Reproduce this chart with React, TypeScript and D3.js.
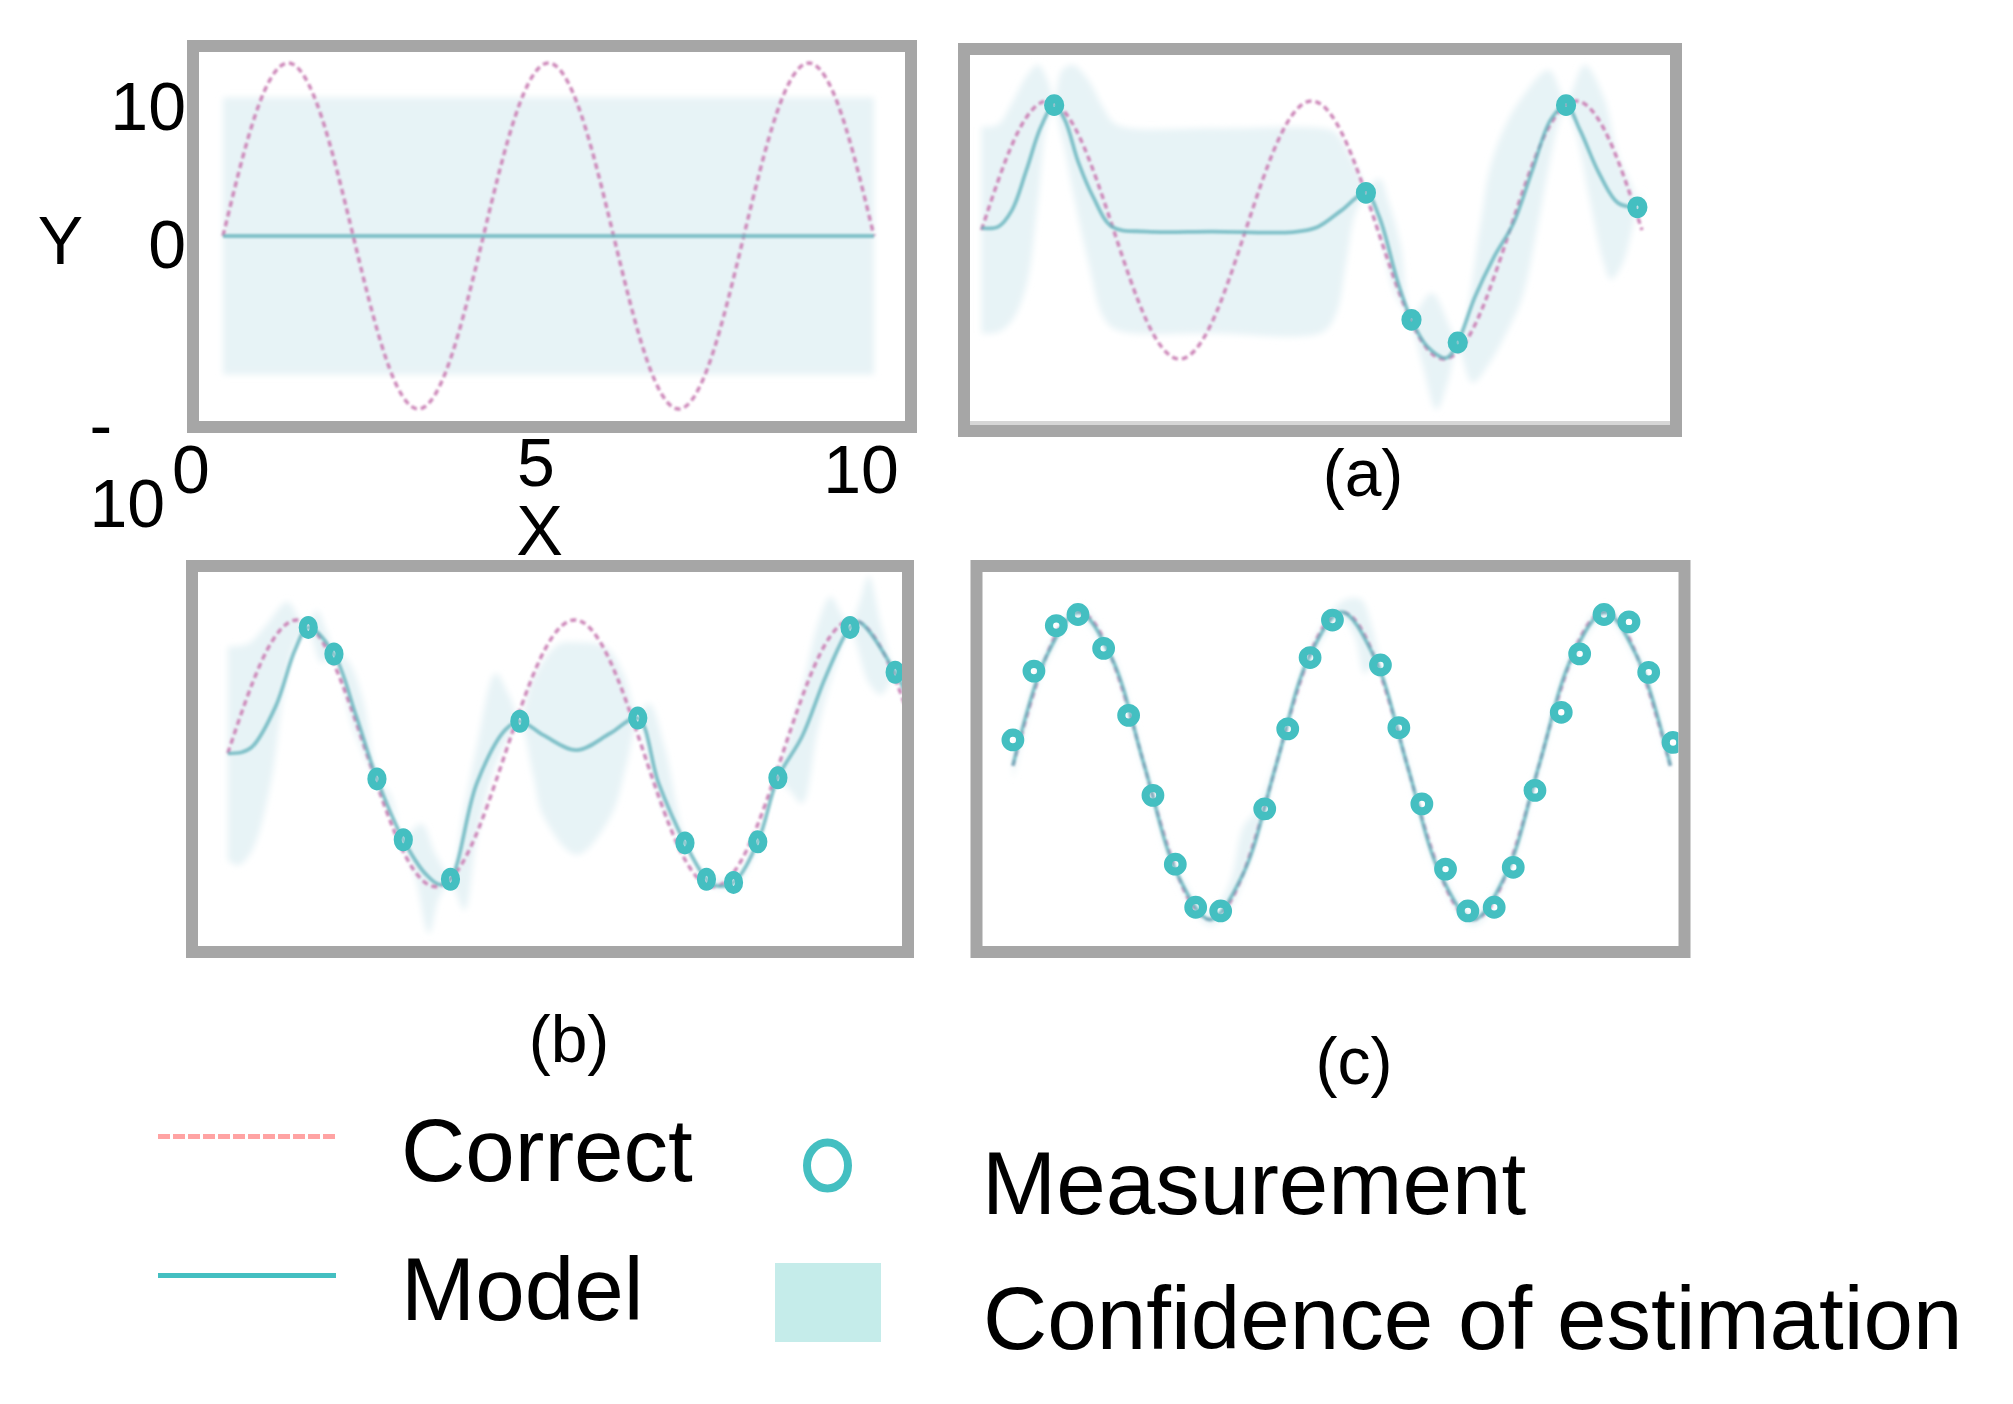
import React from 'react';
import * as d3 from 'd3';

// ---------- data ----------
const CORRECT_X = [0, 0.5, 1, 1.5, 2, 2.5, 3, 3.5, 4, 4.5, 5, 5.5, 6, 6.5, 7, 7.5, 8, 8.5, 9, 9.5, 10];
const CORRECT_Y = [0, 8.8, 12.5, 8.8, 0, -8.8, -12.5, -8.8, 0, 8.8, 12.5, 8.8, 0, -8.8, -12.5, -8.8, 0, 8.8, 12.5, 8.8, 0];

// prior panel
const PRIOR_X = [0, 10];
const PRIOR_MEAN = [0, 0];
const PRIOR_UPPER = [10, 10];
const PRIOR_LOWER = [-10, -10];

// panel (a)
const A_MEAS_X = [1.10, 5.82, 6.51, 7.21, 8.85, 9.93];
const A_MEAS_Y = [12.1, 3.6, -8.7, -10.9, 12.1, 2.2];
const A_MODEL_X = [0, 0.25, 0.46, 0.68, 0.9, 1.1, 1.26, 1.47, 1.69, 1.98, 2.5, 3.5, 4.72, 5.09, 5.45, 5.82, 6.02, 6.31, 6.51, 6.75, 7.04, 7.21, 7.47, 7.76, 8.05, 8.34, 8.62, 8.85, 9.06, 9.35, 9.64, 9.93];
const A_MODEL_Y = [0.2, 0.3, 1.9, 5.8, 10.0, 12.1, 10.7, 6.5, 3.2, 0.3, -0.15, -0.15, -0.2, 0.3, 1.9, 3.6, 1.3, -5.2, -8.7, -11.3, -12.4, -10.9, -6.5, -2.6, 0.6, 5.8, 10.7, 12.1, 9.7, 5.5, 2.6, 2.2];
const A_UPPER_X = [0, 0.25, 0.46, 0.68, 0.86, 1.0, 1.1, 1.22, 1.39, 1.62, 1.84, 2.05, 3.5, 5.16, 5.37, 5.59, 5.74, 5.82, 6.02, 6.17, 6.35, 6.51, 6.82, 7.21, 7.54, 7.69, 7.9, 8.19, 8.59, 8.85, 9.13, 9.42, 9.64, 9.85, 9.93, 10];
const A_UPPER_Y = [10.0, 10.2, 12.3, 14.9, 16.0, 14.5, 12.6, 15.5, 16.0, 14.5, 11.9, 10.2, 9.85, 9.85, 9.4, 7.1, 5.2, 4.0, 5.0, 2.6, -1.6, -8.3, -6.1, -10.5, 0.0, 5.8, 9.7, 12.9, 15.5, 12.6, 16.0, 12.9, 7.1, 4.2, 2.6, 4.0];
const A_LOWER_X = [0, 0.25, 0.46, 0.68, 0.86, 1.0, 1.1, 1.22, 1.4, 1.62, 1.84, 2.05, 3.5, 5.16, 5.37, 5.52, 5.66, 5.82, 6.02, 6.24, 6.51, 6.67, 6.89, 7.07, 7.21, 7.43, 7.69, 7.97, 8.19, 8.41, 8.62, 8.77, 8.85, 8.99, 9.2, 9.42, 9.53, 9.71, 9.85, 9.93, 10];
const A_LOWER_Y = [-10.0, -9.9, -8.8, -5.4, 3.0, 10.6, 11.6, 9.0, 3.2, -3.2, -8.4, -9.7, -10.0, -9.9, -8.1, -3.2, 1.6, 3.2, 0.0, -5.8, -9.1, -12.9, -17.4, -14.5, -11.3, -14.8, -12.9, -9.7, -6.5, 0.0, 7.1, 11.0, 11.6, 9.7, 3.2, -3.2, -4.8, -3.2, 0.0, 1.8, 1.5];

// panel (b)
const B_MEAS_X = [1.16, 1.53, 2.15, 2.53, 3.21, 4.21, 5.91, 6.59, 6.9, 7.29, 7.64, 7.93, 8.97, 9.62];
const B_MEAS_Y = [11.8, 9.3, -2.4, -8.1, -11.8, 3.0, 3.3, -8.4, -11.8, -12.1, -8.3, -2.3, 11.8, 7.6];
const B_MODEL_X = [0, 0.2, 0.35, 0.69, 0.97, 1.16, 1.53, 1.85, 2.15, 2.53, 2.85, 3.05, 3.21, 3.59, 4.0, 4.21, 4.55, 5.03, 5.52, 5.91, 6.21, 6.59, 6.9, 7.04, 7.29, 7.64, 7.93, 8.28, 8.62, 8.97, 9.1, 9.62, 10];
const B_MODEL_Y = [0, 0.1, 0.6, 4.4, 9.7, 11.8, 9.3, 3.5, -2.4, -8.1, -11.3, -12.3, -11.8, -2.8, 2.2, 3.0, 1.7, 0.3, 1.9, 3.3, -2.8, -8.4, -11.8, -12.4, -12.1, -8.3, -2.3, 1.6, 7.2, 11.8, 12.3, 7.6, 2.5];
const B_UPPER_X = [0, 0.3, 0.55, 0.86, 1.05, 1.16, 1.28, 1.42, 1.53, 1.73, 1.95, 2.15, 2.35, 2.53, 2.79, 3.0, 3.21, 3.4, 3.6, 3.86, 4.05, 4.21, 4.4, 4.76, 5.03, 5.46, 5.7, 5.91, 6.07, 6.3, 6.59, 6.9, 7.29, 7.64, 7.93, 8.28, 8.5, 8.69, 8.85, 8.97, 9.1, 9.24, 9.42, 9.62, 9.75, 10];
const B_UPPER_Y = [10.0, 10.3, 12.0, 14.2, 12.5, 12.2, 13.4, 11.5, 9.6, 8.7, 5.0, -2.0, -4.0, -7.8, -6.6, -9.5, -11.4, -5.5, 1.0, 7.5, 5.5, 3.4, 7.0, 10.2, 10.4, 9.9, 7.5, 3.7, 4.7, 0.5, -8.0, -11.4, -11.7, -7.9, -1.9, 6.0, 12.0, 14.7, 13.0, 12.2, 14.0, 16.6, 12.0, 8.0, 8.5, 9.0];
const B_LOWER_X = [0, 0.15, 0.35, 0.62, 0.83, 1.0, 1.16, 1.35, 1.53, 1.8, 2.15, 2.35, 2.53, 2.7, 2.9, 3.05, 3.21, 3.41, 3.6, 3.9, 4.21, 4.4, 4.55, 5.03, 5.52, 5.75, 5.91, 6.1, 6.3, 6.59, 6.9, 7.29, 7.64, 7.93, 8.1, 8.28, 8.5, 8.7, 8.97, 9.24, 9.42, 9.62, 9.8, 10];
const B_LOWER_Y = [-10.0, -10.5, -9.1, -2.8, 6.6, 10.5, 11.4, 8.5, 9.0, 2.5, -2.8, -5.5, -8.4, -11.5, -16.9, -13.5, -12.2, -14.7, -7.5, -0.5, 2.6, -2.0, -5.9, -9.5, -5.9, -1.0, 2.9, -1.5, -5.5, -8.8, -12.2, -12.5, -8.7, -2.7, -3.5, -4.7, 2.0, 7.0, 11.4, 6.6, 5.5, 7.2, 4.5, 3.0];

// panel (c)
const C_MEAS_X = [0.0, 0.32, 0.66, 0.99, 1.38, 1.76, 2.13, 2.47, 2.78, 3.16, 3.83, 4.18, 4.52, 4.86, 5.59, 5.87, 6.22, 6.58, 6.92, 7.32, 7.61, 7.94, 8.34, 8.62, 8.99, 9.37, 9.67, 10.04];
const C_MEAS_Y = [2.1, 7.7, 11.4, 12.3, 9.55, 4.1, -2.4, -8.0, -11.5, -11.8, -3.5, 3.0, 8.8, 11.85, 8.2, 3.1, -3.1, -8.4, -11.8, -11.5, -8.25, -2.0, 4.35, 9.1, 12.3, 11.7, 7.6, 1.9];
const C_MODEL_X = [0, 0.5, 1, 1.5, 2, 2.5, 3, 3.5, 4, 4.5, 5, 5.5, 6, 6.5, 7, 7.5, 8, 8.5, 9, 9.5, 10];
const C_MODEL_Y = [0, 8.8, 12.5, 8.8, 0, -8.8, -12.5, -8.8, 0, 8.8, 12.5, 8.8, 0, -8.8, -12.5, -8.8, 0, 8.8, 12.5, 8.8, 0];
const C_UPPER_X = [0, 0.5, 1, 1.5, 2, 2.5, 3, 3.3, 3.5, 3.7, 4, 4.5, 4.9, 5.1, 5.3, 5.45, 5.6, 6, 6.5, 7, 7.5, 8, 8.5, 9, 9.5, 10];
const C_UPPER_Y = [0.5, 9.3, 13.0, 9.3, 0.5, -8.3, -12.0, -9.5, -5.0, -3.6, 0.5, 9.3, 12.9, 13.6, 13.5, 11.5, 8.0, 0.5, -8.3, -12.0, -8.3, 0.5, 9.3, 13.0, 9.3, 0.5];
const C_LOWER_X = [0, 0.5, 1, 1.5, 2, 2.5, 3, 3.3, 3.5, 3.7, 4, 4.5, 5, 5.2, 5.35, 5.5, 6, 6.5, 7, 7.5, 8, 8.5, 9, 9.5, 10];
const C_LOWER_Y = [-1.2, 8.3, 12.0, 8.3, -0.5, -9.3, -13.0, -11.6, -9.3, -6.2, -0.5, 8.3, 12.0, 10.5, 7.5, 8.2, -0.5, -9.3, -13.0, -9.3, -0.5, 8.3, 12.0, 8.3, -0.5];

// tick labels
const X_TICKS = [0, 5, 10];
const Y_TICKS = [10, 0];
const LEGEND_LINES = ['Correct', 'Model'];
const LEGEND_MARKS = ['Measurement', 'Confidence of estimation'];

// ---------- styling ----------
const FONT = 'Liberation Sans, Arial, Helvetica, sans-serif';
const FRAME_COLOR = '#a6a6a6';
const BAND_COLOR = '#e7f3f6';
const PINK = '#cc86b8';
const TEAL_LINE = '#66b4bd';
const TEAL = '#44bfc1';

type Pt = [number, number];
const zip = (xs: number[], ys: number[]): Pt[] => xs.map((x, i) => [x, ys[i]]);

type Layout = {
  id: string;
  outer: [number, number, number, number]; // x1,y1,x2,y2
  xr: [number, number];
  y0: number;
  k: number;
};

const FRAME = 12;

const LAYOUTS: Record<string, Layout> = {
  p: { id: 'p', outer: [187, 40, 917, 433], xr: [223, 874], y0: 236, k: 13.84 },
  a: { id: 'a', outer: [958, 43, 1682, 437], xr: [981.5, 1642], y0: 230, k: 10.32 },
  b: { id: 'b', outer: [186, 560, 914, 958], xr: [227.8, 921.5], y0: 753.3, k: 10.67 },
  c: { id: 'c', outer: [970.5, 560, 1690.5, 958], xr: [1012.9, 1670.4], y0: 765.8, k: 12.3 },
};

function scalesFor(L: Layout) {
  const x = d3.scaleLinear().domain([0, 10]).range(L.xr);
  const y = d3.scaleLinear().domain([-12.5, 12.5]).range([L.y0 + 12.5 * L.k, L.y0 - 12.5 * L.k]);
  return { x, y };
}

type PanelProps = {
  L: Layout;
  model: Pt[];
  upper: Pt[];
  lower: Pt[];
  meas: Pt[];
  ring: { rx: number; ry: number; sw: number };
  axisStrip?: boolean;
};

function Panel({ L, model, upper, lower, meas, ring, axisStrip }: PanelProps) {
  const { x, y } = scalesFor(L);
  const [x1, y1, x2, y2] = L.outer;
  const ix1 = x1 + FRAME, iy1 = y1 + FRAME, ix2 = x2 - FRAME, iy2 = y2 - FRAME;
  const smooth = d3.line<Pt>().x(d => x(d[0])).y(d => y(d[1])).curve(d3.curveCatmullRom.alpha(0.5));
  const natural = d3.line<Pt>().x(d => x(d[0])).y(d => y(d[1])).curve(d3.curveNatural);
  const up = smooth(upper) || '';
  const lo = smooth([...lower].reverse()) || '';
  const band = up + 'L' + lo.slice(1) + 'Z';
  const correct = natural(zip(CORRECT_X, CORRECT_Y)) || '';
  const modelPath = (model.length > 2 ? smooth(model) : d3.line<Pt>().x(d => x(d[0])).y(d => y(d[1]))(model)) || '';
  const clipId = 'clip-' + L.id;
  return (
    <g>
      <clipPath id={clipId}>
        <rect x={ix1} y={iy1} width={ix2 - ix1} height={iy2 - iy1} />
      </clipPath>
      <rect x={ix1} y={iy1} width={ix2 - ix1} height={iy2 - iy1} fill="#ffffff" />
      <g clipPath={`url(#${clipId})`}>
        <path d={band} fill={BAND_COLOR} filter="url(#blurBand)" />
        <g filter="url(#blurLine)">
          <path d={correct} fill="none" stroke={PINK} strokeWidth={3.4} strokeDasharray="6 4" />
          <path d={modelPath} fill="none" stroke={TEAL_LINE} strokeWidth={3.8} opacity={0.8} />
        </g>
        {meas.map((d, i) => (
          <ellipse key={i} cx={x(d[0])} cy={y(d[1])} rx={ring.rx} ry={ring.ry}
            fill="none" stroke={TEAL} strokeWidth={ring.sw} />
        ))}
        {axisStrip && (
          <line x1={ix1} x2={ix2} y1={iy2 - 2} y2={iy2 - 2} stroke="#d6d6d6" strokeWidth={4} />
        )}
      </g>
      <rect x={x1 + FRAME / 2} y={y1 + FRAME / 2} width={x2 - x1 - FRAME} height={y2 - y1 - FRAME}
        fill="none" stroke={FRAME_COLOR} strokeWidth={FRAME} />
    </g>
  );
}

export default function App() {
  const P = LAYOUTS.p;
  const { x: px, y: py } = scalesFor(P);
  const tickLabelX = d3.scaleLinear().domain([0, 5, 10]).range([191, 536, 861]);
  const TXT = { fontFamily: FONT, fill: '#000' } as const;
  return (
    <svg width={2013} height={1404} viewBox="0 0 2013 1404"
      style={{ position: 'absolute', left: 0, top: 0, background: '#fff' }}>
      <defs>
        <filter id="blurBand" x="-10%" y="-10%" width="120%" height="120%">
          <feGaussianBlur stdDeviation={3} />
        </filter>
        <filter id="blurLine" x="-5%" y="-5%" width="110%" height="110%">
          <feGaussianBlur stdDeviation={0.8} />
        </filter>
      </defs>
      <rect x={0} y={0} width={2013} height={1404} fill="#fff" />

      <Panel L={P} model={zip(PRIOR_X, PRIOR_MEAN)} upper={zip(PRIOR_X, PRIOR_UPPER)}
        lower={zip(PRIOR_X, PRIOR_LOWER)} meas={[]} ring={{ rx: 7, ry: 7, sw: 7 }} />
      <Panel L={LAYOUTS.a} model={zip(A_MODEL_X, A_MODEL_Y)} upper={zip(A_UPPER_X, A_UPPER_Y)}
        lower={zip(A_LOWER_X, A_LOWER_Y)} meas={zip(A_MEAS_X, A_MEAS_Y)}
        ring={{ rx: 5.6, ry: 6.4, sw: 9 }} axisStrip />
      <Panel L={LAYOUTS.b} model={zip(B_MODEL_X, B_MODEL_Y)} upper={zip(B_UPPER_X, B_UPPER_Y)}
        lower={zip(B_LOWER_X, B_LOWER_Y)} meas={zip(B_MEAS_X, B_MEAS_Y)}
        ring={{ rx: 5.6, ry: 7.5, sw: 8 }} />
      <Panel L={LAYOUTS.c} model={zip(C_MODEL_X, C_MODEL_Y)} upper={zip(C_UPPER_X, C_UPPER_Y)}
        lower={zip(C_LOWER_X, C_LOWER_Y)} meas={zip(C_MEAS_X, C_MEAS_Y)}
        ring={{ rx: 7.3, ry: 7.3, sw: 8.2 }} />

      {/* axis labels of the prior panel */}
      {Y_TICKS.map(v => (
        <text key={v} x={186} y={py(v) + 32} textAnchor="end" fontSize={68} style={TXT}>{v}</text>
      ))}
      <text x={89.5} y={py(-10) + 75} fontSize={68} style={TXT}>-</text>
      <text x={89.5} y={py(-10) + 153} fontSize={68} style={TXT}>10</text>
      {X_TICKS.map(v => (
        <text key={v} x={tickLabelX(v)} y={v === 5 ? 486 : 493} textAnchor="middle" fontSize={68} style={TXT}>{v}</text>
      ))}
      <text x={(px(0) + px(10)) / 2 - 9} y={555} textAnchor="middle" fontSize={70} style={TXT}>X</text>
      <text x={60.5} y={264} textAnchor="middle" fontSize={68} style={TXT}>Y</text>

      {/* subplot captions */}
      <text x={1363} y={496} textAnchor="middle" fontSize={66} style={TXT}>(a)</text>
      <text x={569} y={1062} textAnchor="middle" fontSize={66} style={TXT}>(b)</text>
      <text x={1354} y={1084} textAnchor="middle" fontSize={66} style={TXT}>(c)</text>

      {/* legend */}
      <line x1={158} x2={336} y1={1136.5} y2={1136.5} stroke="#ffa3a3" strokeWidth={5} strokeDasharray="12 3" />
      <line x1={158} x2={336} y1={1275.5} y2={1275.5} stroke={TEAL} strokeWidth={5} />
      <text x={401} y={1181} fontSize={89} style={TXT}>{LEGEND_LINES[0]}</text>
      <text x={401} y={1320} fontSize={89} style={TXT}>{LEGEND_LINES[1]}</text>
      <ellipse cx={827.5} cy={1165.5} rx={20.5} ry={23} fill="none" stroke={TEAL} strokeWidth={8} />
      <rect x={775} y={1263} width={106} height={79} fill="#c5ecea" />
      <text x={982} y={1214} fontSize={89} style={TXT}>{LEGEND_MARKS[0]}</text>
      <text x={983} y={1349} fontSize={89} style={TXT}>{LEGEND_MARKS[1]}</text>
    </svg>
  );
}
